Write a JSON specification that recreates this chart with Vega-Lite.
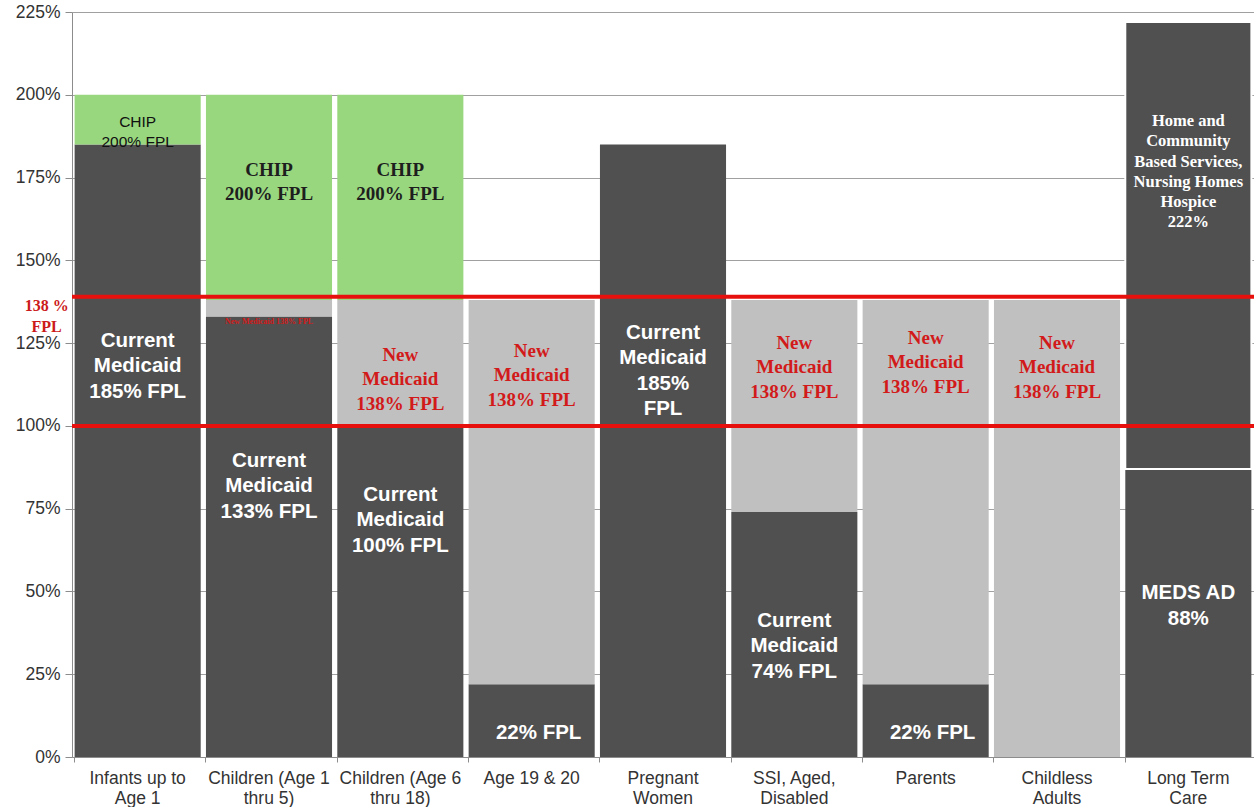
{
  "$schema": "https://vega.github.io/schema/vega-lite/v6.json",
  "autosize": {"type": "none"},
  "padding": {"left": 72, "top": 12, "right": 0, "bottom": 50},
  "width": 1182,
  "height": 745,
  "background": "white",
  "config": {
    "view": {"stroke": null},
    "font": "Liberation Sans",
    "axis": {"labelFont": "Liberation Sans", "labelColor": "#333333", "domainColor": "#8c8c8c", "tickColor": "#8c8c8c", "title": null}
  },
  "datasets": {
    "segments": [
      {"cat": "Infants up to Age 1", "lo": 0, "hi": 185, "kind": "current"},
      {"cat": "Infants up to Age 1", "lo": 185, "hi": 200, "kind": "chip"},
      {"cat": "Children (Age 1 thru 5)", "lo": 0, "hi": 133, "kind": "current"},
      {"cat": "Children (Age 1 thru 5)", "lo": 133, "hi": 138, "kind": "new"},
      {"cat": "Children (Age 1 thru 5)", "lo": 138, "hi": 200, "kind": "chip"},
      {"cat": "Children (Age 6 thru 18)", "lo": 0, "hi": 100, "kind": "current"},
      {"cat": "Children (Age 6 thru 18)", "lo": 100, "hi": 138, "kind": "new"},
      {"cat": "Children (Age 6 thru 18)", "lo": 138, "hi": 200, "kind": "chip"},
      {"cat": "Age 19 & 20", "lo": 0, "hi": 22, "kind": "current"},
      {"cat": "Age 19 & 20", "lo": 22, "hi": 138, "kind": "new"},
      {"cat": "Pregnant Women", "lo": 0, "hi": 185, "kind": "current"},
      {"cat": "SSI, Aged, Disabled", "lo": 0, "hi": 74, "kind": "current"},
      {"cat": "SSI, Aged, Disabled", "lo": 74, "hi": 138, "kind": "new"},
      {"cat": "Parents", "lo": 0, "hi": 22, "kind": "current"},
      {"cat": "Parents", "lo": 22, "hi": 138, "kind": "new"},
      {"cat": "Childless Adults", "lo": 0, "hi": 138, "kind": "new"},
      {"cat": "Long Term Care", "lo": 0, "hi": 87, "kind": "current"},
      {"cat": "Long Term Care", "lo": 87, "hi": 222, "kind": "ltc"}
    ],
    "whiteSans": [
      {"cat": "Infants up to Age 1", "at": 125.7, "lines": ["Current", "Medicaid", "185% FPL"]},
      {"cat": "Children (Age 1 thru 5)", "at": 89.4, "lines": ["Current", "Medicaid", "133% FPL"]},
      {"cat": "Children (Age 6 thru 18)", "at": 79.2, "lines": ["Current", "Medicaid", "100% FPL"]},
      {"cat": "Pregnant Women", "at": 128.1, "lines": ["Current", "Medicaid", "185%", "FPL"]},
      {"cat": "SSI, Aged, Disabled", "at": 41.1, "lines": ["Current", "Medicaid", "74% FPL"]},
      {"cat": "Long Term Care", "at": 49.5, "lines": ["MEDS AD", "88%"]}
    ],
    "lowLabels": [
      {"cat": "Age 19 & 20", "at": 7.3, "lines": "22% FPL"},
      {"cat": "Parents", "at": 7.3, "lines": "22% FPL"}
    ],
    "chipSans": [
      {"cat": "Infants up to Age 1", "at": 191.8, "lines": ["CHIP", "200% FPL"]}
    ],
    "chipSerif": [
      {"cat": "Children (Age 1 thru 5)", "at": 177.3, "lines": ["CHIP", "200% FPL"]},
      {"cat": "Children (Age 6 thru 18)", "at": 177.3, "lines": ["CHIP", "200% FPL"]}
    ],
    "newSerif": [
      {"cat": "Children (Age 6 thru 18)", "at": 121.5, "lines": ["New", "Medicaid", "138% FPL"]},
      {"cat": "Age 19 & 20", "at": 122.7, "lines": ["New", "Medicaid", "138% FPL"]},
      {"cat": "SSI, Aged, Disabled", "at": 125.1, "lines": ["New", "Medicaid", "138% FPL"]},
      {"cat": "Parents", "at": 126.6, "lines": ["New", "Medicaid", "138% FPL"]},
      {"cat": "Childless Adults", "at": 125.1, "lines": ["New", "Medicaid", "138% FPL"]}
    ],
    "tinyNew": [
      {"cat": "Children (Age 1 thru 5)", "at": 131.3, "lines": "New Medicaid 138% FPL"}
    ],
    "ltcSerif": [
      {"cat": "Long Term Care", "at": 192.1, "lines": ["Home and", "Community", "Based Services,", "Nursing Homes", "Hospice", "222%"]}
    ],
    "thresholds": [
      {"level": 100},
      {"level": 139}
    ],
    "note": [
      {"cat": "Infants up to Age 1", "at": 136.3, "lines": ["138 %", "FPL"]}
    ]
  },
  "encoding": {
    "x": {
      "field": "cat", "type": "nominal", "sort": null,
      "scale": {"domain": ["Infants up to Age 1", "Children (Age 1 thru 5)", "Children (Age 6 thru 18)", "Age 19 & 20", "Pregnant Women", "SSI, Aged, Disabled", "Parents", "Childless Adults", "Long Term Care"], "paddingInner": 0.04, "paddingOuter": 0.02},
      "axis": {
        "labelAngle": 0, "labelFontSize": 17.5, "labelLineHeight": 20, "labelPadding": 7, "labelBaseline": "top",
        "labelExpr": "datum.value == 'Infants up to Age 1' ? ['Infants up to', 'Age 1'] : datum.value == 'Children (Age 1 thru 5)' ? ['Children (Age 1', 'thru 5)'] : datum.value == 'Children (Age 6 thru 18)' ? ['Children (Age 6', 'thru 18)'] : datum.value == 'Pregnant Women' ? ['Pregnant', 'Women'] : datum.value == 'SSI, Aged, Disabled' ? ['SSI, Aged,', 'Disabled'] : datum.value == 'Childless Adults' ? ['Childless', 'Adults'] : datum.value == 'Long Term Care' ? ['Long Term', 'Care'] : datum.value",
        "bandPosition": 0, "tickSize": 5, "domain": true, "grid": false, "labelLimit": 200
      }
    }
  },
  "layer": [
    {
      "data": {"name": "segments"},
      "mark": {"type": "bar", "stroke": "white"},
      "encoding": {
        "y": {
          "field": "lo", "type": "quantitative",
          "scale": {"domain": [0, 225], "nice": false},
          "axis": {"values": [0, 25, 50, 75, 100, 125, 150, 175, 200, 225], "labelExpr": "datum.value + '%'", "labelFontSize": 17.5, "labelPadding": 5, "tickSize": 7, "grid": true, "gridColor": "#a0a0a0", "gridWidth": 1, "domain": true}
        },
        "y2": {"field": "hi"},
        "color": {
          "field": "kind", "type": "nominal", "legend": null,
          "scale": {"domain": ["current", "new", "chip", "ltc"], "range": ["#505050", "#c0c0c0", "#98d77e", "#505050"]}
        },
        "strokeWidth": {"condition": {"test": "datum.kind === 'ltc'", "value": 2}, "value": 0}
      }
    },
    {
      "data": {"name": "thresholds"},
      "mark": {"type": "rule", "color": "#e8100c", "strokeWidth": 4},
      "encoding": {"y": {"field": "level", "type": "quantitative"}, "x": null}
    },
    {
      "data": {"name": "whiteSans"},
      "mark": {"type": "text", "font": "Liberation Sans", "fontWeight": "bold", "fontSize": 20.5, "lineHeight": 25.5, "color": "white", "baseline": "middle"},
      "encoding": {"y": {"field": "at", "type": "quantitative"}, "text": {"field": "lines"}}
    },
    {
      "data": {"name": "lowLabels"},
      "mark": {"type": "text", "font": "Liberation Sans", "fontWeight": "bold", "fontSize": 20.5, "color": "white", "baseline": "middle", "dx": 7},
      "encoding": {"y": {"field": "at", "type": "quantitative"}, "text": {"field": "lines"}}
    },
    {
      "data": {"name": "chipSans"},
      "mark": {"type": "text", "font": "Liberation Sans", "fontSize": 15.5, "lineHeight": 20, "color": "#111111", "baseline": "middle"},
      "encoding": {"y": {"field": "at", "type": "quantitative"}, "text": {"field": "lines"}}
    },
    {
      "data": {"name": "chipSerif"},
      "mark": {"type": "text", "font": "Liberation Serif", "fontWeight": "bold", "fontSize": 19, "lineHeight": 24, "color": "#1e1e1e", "baseline": "middle"},
      "encoding": {"y": {"field": "at", "type": "quantitative"}, "text": {"field": "lines"}}
    },
    {
      "data": {"name": "newSerif"},
      "mark": {"type": "text", "font": "Liberation Serif", "fontWeight": "bold", "fontSize": 19, "lineHeight": 24.5, "color": "#d21a1a", "baseline": "middle"},
      "encoding": {"y": {"field": "at", "type": "quantitative"}, "text": {"field": "lines"}}
    },
    {
      "data": {"name": "tinyNew"},
      "mark": {"type": "text", "font": "Liberation Serif", "fontWeight": "bold", "fontSize": 8, "color": "#d21a1a", "baseline": "middle"},
      "encoding": {"y": {"field": "at", "type": "quantitative"}, "text": {"field": "lines"}}
    },
    {
      "data": {"name": "ltcSerif"},
      "mark": {"type": "text", "font": "Liberation Serif", "fontWeight": "bold", "fontSize": 16.5, "lineHeight": 20.3, "color": "white", "baseline": "middle"},
      "encoding": {"y": {"field": "at", "type": "quantitative"}, "text": {"field": "lines"}}
    },
    {
      "data": {"name": "note"},
      "mark": {"type": "text", "font": "Liberation Serif", "fontWeight": "bold", "fontSize": 16, "lineHeight": 21, "color": "#cc1a1a", "baseline": "middle", "dx": -91},
      "encoding": {"y": {"field": "at", "type": "quantitative"}, "text": {"field": "lines"}}
    }
  ]
}
